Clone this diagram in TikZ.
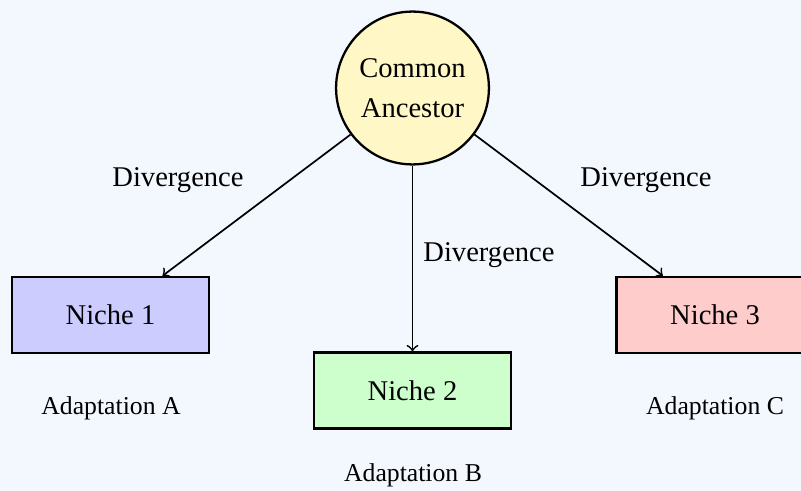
\documentclass[tikz,border=0pt]{standalone}
\usepackage{fontspec}
\setmainfont{Liberation Serif}
\definecolor{bgc}{RGB}{243,247,254}
\definecolor{ancfill}{RGB}{255,248,198}
\definecolor{n1fill}{RGB}{204,204,255}
\definecolor{n2fill}{RGB}{204,255,204}
\definecolor{n3fill}{RGB}{255,204,204}
\tikzset{
  ancestor/.style={circle, draw=black, thick, fill=ancfill, minimum size=53.5pt, inner sep=1pt, align=center, font=\fontsize{10}{14}\selectfont},
  niche/.style={rectangle, draw=black, thick, minimum width=69pt, minimum height=26.6pt, font=\fontsize{10}{12}\selectfont},
  lbl/.style={font=\fontsize{10}{12}\selectfont},
  adapt/.style={font=\fontsize{9}{11}\selectfont},
  conn/.style={->, semithick}
}
\begin{document}
\begin{tikzpicture}[x=0.35pt,y=-0.35pt]
\useasboundingbox (0,0) rectangle (801,491);
\fill[bgc] (0,0) rectangle (801,491);
\clip (0,0) rectangle (801,491);
\node[ancestor] (anc) at (412.5,88) {Common\\Ancestor};
\node[niche, fill=n1fill] (n1) at (110.5,315) {Niche 1};
\node[niche, fill=n2fill] (n2) at (412.5,390.5) {Niche 2};
\node[niche, fill=n3fill] (n3) at (715,315) {Niche 3};
\draw[conn] (anc) -- (n1);
\draw[conn] (anc) -- (n2);
\draw[conn] (anc) -- (n3);
\node[lbl] (d1) at (178,180) {Divergence};
\node[lbl] (d2) at (489,255) {Divergence};
\node[lbl] (d3) at (646,180) {Divergence};
\node[adapt] (a1) at (111,408) {Adaptation A};
\node[adapt] (a2) at (413,475) {Adaptation B};
\node[adapt] (a3) at (715,408) {Adaptation C};
\end{tikzpicture}
\end{document}
